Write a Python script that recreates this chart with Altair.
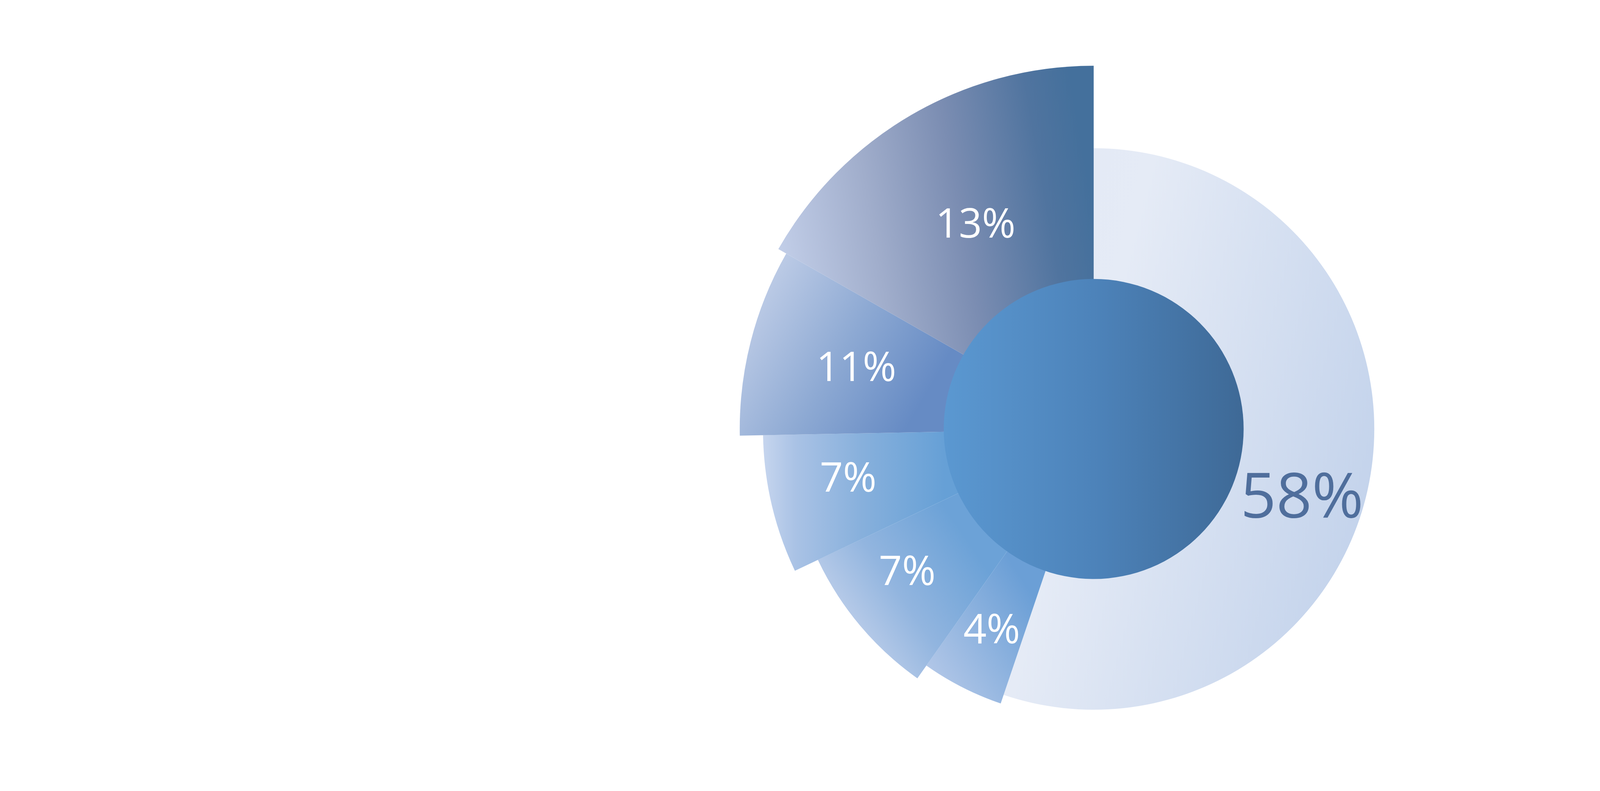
import math
import altair as alt
import pandas as pd

# slices in clockwise order starting at 12 o'clock
labels = ["58%", "4%", "7%", "7%", "11%", "13%"]
share = [55.2, 4.6, 8.15, 6.75, 8.55, 16.75]   # angular share of the circle (%)
reach = [77.3, 79.8, 84.1, 91.1, 97.5, 100.0]   # outer radius relative to the longest slice

df = pd.DataFrame({"order": list(range(len(labels))), "label": labels,
                   "share": share, "reach": reach})

CX, CY = 2902, 1093
FONT = "Open Sans"

theta_scale = alt.Scale(domain=[0, 100], range=[0, 2 * math.pi])
radius_scale = alt.Scale(type="linear", zero=True, domain=[0, 100], range=[0, 966])


def grad(stops, x1=0, y1=0, x2=1, y2=0):
    return alt.Gradient(
        gradient="linear",
        stops=[alt.GradientStop(offset=o, color=c) for o, c in stops],
        x1=x1, y1=y1, x2=x2, y2=y2,
    )


# gradient coordinates are relative to each slice's bounding box (which includes the centre)
slice_fills = [
    grad([(0, "#e3e9f5"), (0.25, "#e5ebf6"), (1, "#c2d2eb")], 0, 0.3, 1, 0.7),
    grad([(0, "#b4c8e8"), (1, "#6b9fd6")], 0, 0.9, 0.45, 0.43),
    grad([(0, "#c2d1eb"), (0.45, "#92b5df"), (1, "#6ca2d7")], 0.02, 0.72, 0.52, 0.41),
    grad([(0, "#c6d5ee"), (0.1, "#a9c2e5"), (0.3, "#87b0dc"), (0.55, "#66a0d6")], 0, 0, 1, 0),
    grad([(0, "#bfcde7"), (0.32, "#8da9d3"), (0.6, "#668bc4")], 0, 0.35, 1, 0.65),
    grad([(0, "#c4d0ea"), (0.32, "#a0adcb"), (0.59, "#7b8db2"), (0.86, "#50749f"), (1, "#44709c")],
         0, 0.6, 1, 0.4),
]

# (radius, font size, colour, dx, dy) of each label
label_style = [
    (575, 166, "#4f6e9c", -13, 92),
    (602, 108, "white", 2, 2),
    (626, 108, "white", -17, -20),
    (666, 108, "white", -5, -18),
    (652, 108, "white", 0, 2),
    (626, 108, "white", 0, 0),
]

base = (
    alt.Chart(df)
    .transform_stack(stack="share", as_=["start", "end"], groupby=[],
                     sort=[alt.SortField("order", order="ascending")])
    .transform_calculate(mid="(datum.start + datum.end) / 2")
)

layers = []
for i, fill in enumerate(slice_fills):
    layers.append(
        base.transform_filter(alt.datum.order == i)
        .mark_arc(fill=fill)
        .encode(
            theta=alt.Theta("start:Q", scale=theta_scale),
            theta2="end:Q",
            radius=alt.Radius("reach:Q", scale=radius_scale),
            x=alt.value(CX),
            y=alt.value(CY),
        )
    )

# central disc
hub = (
    alt.Chart(pd.DataFrame({"hub": [0]}))
    .mark_arc(theta=0, theta2=2 * math.pi, radius=399,
              fill=grad([(0, "#5b98d1"), (0.5, "#4d83ba"), (1, "#3e6996")]))
    .encode(x=alt.value(CX), y=alt.value(CY))
)
layers.append(hub)

for i, (r, size, col, dx, dy) in enumerate(label_style):
    layers.append(
        base.transform_filter(alt.datum.order == i)
        .mark_text(font=FONT, fontSize=size, color=col, align="center",
                   baseline="middle", dx=dx, dy=dy)
        .encode(
            theta=alt.Theta("mid:Q", scale=theta_scale),
            radius=alt.value(r),
            x=alt.value(CX),
            y=alt.value(CY),
            text="label:N",
        )
    )

chart = (
    alt.layer(*layers)
    .properties(width=4241, height=2008, padding=0, background="white",
                autosize=alt.AutoSizeParams(type="none"))
    .configure_view(stroke=None)
)

chart.save("out.html", embed_options={"renderer": "svg", "actions": False})
